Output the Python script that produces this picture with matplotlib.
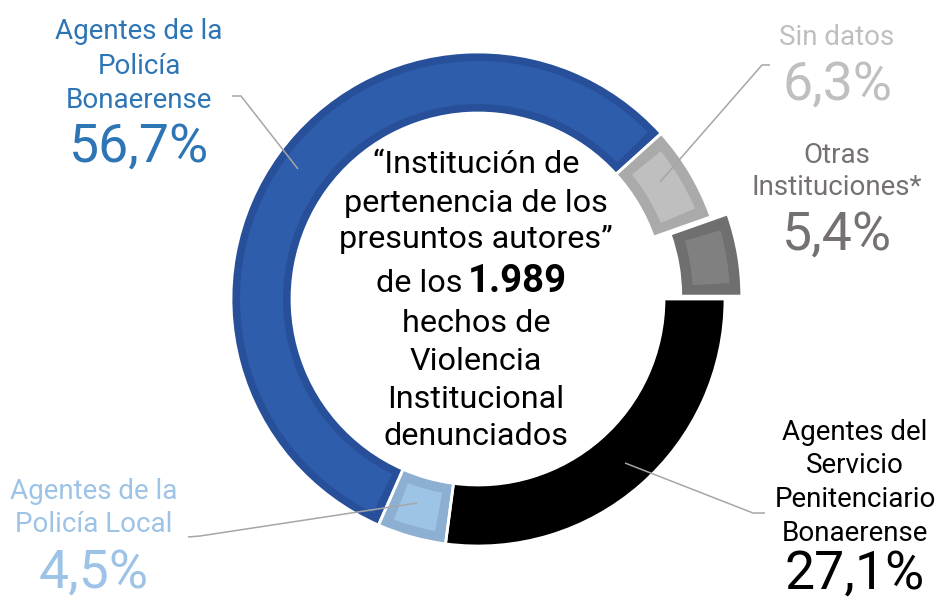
import numpy as np
import matplotlib.pyplot as plt
from matplotlib.patches import Wedge

plt.rcParams['font.family'] = ['Roboto', 'DejaVu Sans']

# datos, en orden de dibujo (desde las 3 en punto, sentido horario)
categorias = [
    ["Agentes del", "Servicio", "Penitenciario", "Bonaerense"],
    ["Agentes de la", "Policía Local"],
    ["Agentes de la", "Policía", "Bonaerense"],
    ["Sin datos"],
    ["Otras", "Instituciones*"],
]
porcentajes = [27.1, 4.5, 56.7, 6.3, 5.4]
etiquetas_pct = ["27,1%", "4,5%", "56,7%", "6,3%", "5,4%"]
total_hechos = "1.989"
titulo = ["\u201cInstitución de", "pertenencia de los", "presuntos autores\u201d",
          "de los", "hechos de", "Violencia", "Institucional", "denunciados"]

relleno = ["#000000", "#9dc3e6", "#2e5dab", "#bfbfbf", "#808080"]
borde = ["#000000", "#8db0d2", "#28509a", "#aaaaaa", "#6f6f6f"]
color_texto = ["#000000", "#9dc3e6", "#2e75b6", "#bfbfbf", "#767171"]
ancho_borde = [0, 11, 9, 12, 12]   # px, marco interior
separado = [0, 0, 0, 0, 17]        # px

W, H = 939, 603
CX, CY = 478, 299
R, ANCHO = 247, 61

fig = plt.figure(figsize=(W / 100, H / 100), dpi=100)
ax = fig.add_axes([0, 0, 1, 1])

# eje y invertido: counterclock=True se ve en sentido horario
cunas, _ = ax.pie(porcentajes, colors=borde, startangle=0, counterclock=True,
                  radius=R, center=(CX, CY), explode=separado,
                  wedgeprops=dict(width=ANCHO, linewidth=0), frame=True)

# relleno interior (efecto marco)
for w, c, b in zip(cunas, relleno, ancho_borde):
    if b == 0:
        continue
    rm = w.r - w.width / 2
    da = np.degrees(b / rm)
    ax.add_patch(Wedge(w.center, w.r - b, w.theta1 + da, w.theta2 - da,
                       width=w.width - 2 * b, facecolor=c, linewidth=0))

# separadores blancos entre porciones
for w in cunas:
    ax.add_patch(Wedge(w.center, w.r, w.theta1, w.theta2, width=w.width,
                       facecolor="none", edgecolor="white", linewidth=2.0))

ax.set_xlim(0, W)
ax.set_ylim(H, 0)
ax.set_aspect('auto')
ax.axis('off')

# lineas guia
guias = [
    [(765, 513), (753, 513), (625, 463)],
    [(188, 537), (200, 536), (417, 503)],
    [(232, 96), (241, 96), (298, 169)],
    [(770, 65), (762, 65), (660, 182)],
    None,
]
for g in guias:
    if g:
        ax.plot([p[0] for p in g], [p[1] for p in g], color="#a6a6a6", lw=1.1,
                solid_capstyle="butt")

# etiquetas
pos_x = [855, 94, 139, 837, 837]
base_lineas = [[440, 473, 507, 541], [499, 532], [39, 74, 108], [45], [163, 195]]
base_pct = [589, 588, 162, 100, 250]
for lineas, pct, x, bl, bp, c in zip(categorias, etiquetas_pct, pos_x,
                                      base_lineas, base_pct, color_texto):
    for txt, y in zip(lineas, bl):
        ax.text(x, y, txt, ha="center", va="baseline", fontsize=20, color=c)
    ax.text(x, bp, pct, ha="center", va="baseline", fontsize=38.5, color=c)

# texto central
base_titulo = [173, 212, 248, 292, 332, 370, 408, 445]
for txt, y in zip(titulo, base_titulo):
    if txt == "de los":
        ax.text(463, y, txt, ha="right", va="baseline", fontsize=23.3, color="black")
        ax.text(468, y, total_hechos, ha="left", va="baseline", fontsize=27.5,
                color="black", fontweight="bold")
    else:
        ax.text(476, y, txt, ha="center", va="baseline", fontsize=23.3, color="black")

fig.savefig("out.png", dpi=100, facecolor="white")
